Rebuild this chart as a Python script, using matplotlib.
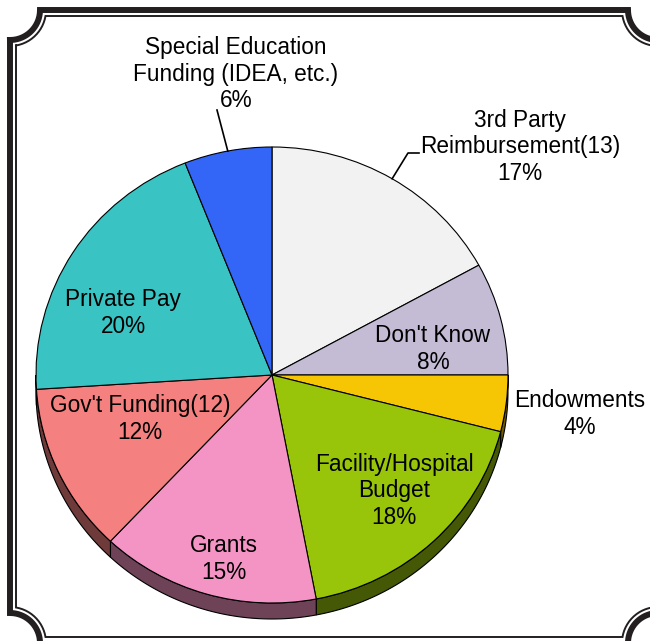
import numpy as np
import matplotlib.pyplot as plt
from matplotlib.patches import Polygon

# funding sources, clockwise from 12 o'clock
names = ["3rd Party\nReimbursement(13)", "Don't Know", "Endowments",
         "Facility/Hospital\nBudget", "Grants", "Gov't Funding(12)",
         "Private Pay", "Special Education\nFunding (IDEA, etc.)"]
shares = [17, 8, 4, 18, 15, 12, 20, 6]
colors = ["#f2f2f2", "#c4bbd5", "#f6c605", "#98c40a",
          "#f494c4", "#f48080", "#39c3c3", "#3366f7"]

# where each label block sits (pixels from top-left)
label_xy = [(520, 147), (433, 349), (580, 414), (394, 491),
            (224, 559), (140, 419), (123, 313), (236, 74)]

W, H = 650, 641
CX, CY = 272, 375          # pie centre
RX, RY = 236, 228          # slightly squashed pie
DEPTH = 16                 # thickness of the pie wall

def to_data(x, y):
    return (x - CX) / RX, (CY - y) / RY

def darker(c, f=0.45):
    r, g, b = [int(c[i:i + 2], 16) / 255 for i in (1, 3, 5)]
    return (r * f, g * f, b * f)

fig = plt.figure(figsize=(W / 100, H / 100), dpi=100)
ax = fig.add_axes([0, 0, 1, 1])

wedges, _ = ax.pie(shares, colors=colors, startangle=90, counterclock=False,
                   wedgeprops=dict(edgecolor="black", linewidth=0.8))
for w in wedges:
    w.set_zorder(2)

# front wall of the pie
d = DEPTH / RY
edges = 90 - 3.6 * np.concatenate([[0], np.cumsum(shares)])
for i, c in enumerate(colors):
    hi = min(edges[i], 0)
    lo = max(edges[i + 1], -180)
    if lo >= hi:
        continue
    t = np.radians(np.linspace(lo, hi, 60))
    top = np.column_stack([np.cos(t), np.sin(t)])
    bot = np.column_stack([np.cos(t), np.sin(t) - d])[::-1]
    ax.add_patch(Polygon(np.vstack([top, bot]), closed=True,
                         facecolor=darker(c), edgecolor="black",
                         linewidth=0.8, zorder=1))

ax.set_aspect("auto")
x0, y0 = to_data(0, H)
x1, y1 = to_data(W, 0)
ax.set_xlim(x0, x1)
ax.set_ylim(y0, y1)
ax.axis("off")

# labels
for name, v, (lx, ly) in zip(names, shares, label_xy):
    ax.text(*to_data(lx, ly), f"{name}\n{v}%", ha="center", va="center",
            fontsize=16.3, family="Liberation Sans", linespacing=1.18,
            zorder=5)

# leader lines for the outside labels
mids = np.radians((edges[:-1] + edges[1:]) / 2)
m = mids[7]
ex, ey = to_data(217, 110)
ax.plot([np.cos(m), ex], [np.sin(m), ey], color="black", lw=1.2, zorder=4)
m = mids[0]
kx, ky = to_data(408, 153)
ex, ey = to_data(419, 153)
ax.plot([np.cos(m), kx, ex], [np.sin(m), ky, ey], color="black", lw=1.2,
        zorder=4)

# decorative frame with scooped corners
def frame(off, L=10, T=10, R=658, B=643, rad=30):
    rr = rad + off
    a0 = np.arcsin(off / rr)
    phi = np.linspace(a0, np.pi / 2 - a0, 40)
    tl = np.column_stack([L + rr * np.cos(phi), T + rr * np.sin(phi)])[::-1]
    tr = np.column_stack([R - rr * np.cos(phi), T + rr * np.sin(phi)])
    br = np.column_stack([R - rr * np.cos(phi), B - rr * np.sin(phi)])[::-1]
    bl = np.column_stack([L + rr * np.cos(phi), B - rr * np.sin(phi)])
    pts = np.vstack([tl, tr, br, bl, tl[:1]])
    return to_data(pts[:, 0], pts[:, 1])

fx, fy = frame(0)
ax.plot(fx, fy, color="#231f20", lw=4.3, solid_joinstyle="miter", zorder=6)
fx, fy = frame(6)
ax.plot(fx, fy, color="#231f20", lw=1.4, solid_joinstyle="miter", zorder=6)

fig.savefig("out.png", dpi=100)
